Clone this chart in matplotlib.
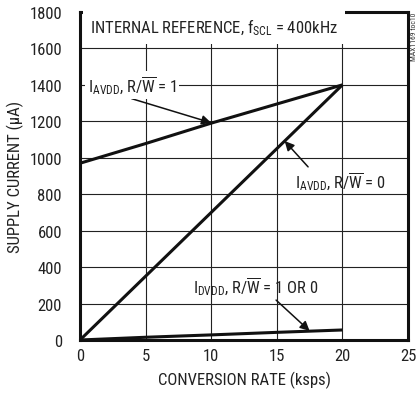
import matplotlib
matplotlib.use("Agg")
import matplotlib.pyplot as plt

# Data
rate = [0, 5, 10, 15, 20]
iavdd_rw1 = [970, 1078, 1190, 1295, 1400]
iavdd_rw0 = [0, 350, 700, 1050, 1400]
idvdd = [0, 15, 28, 42, 55]

xticks = [0, 5, 10, 15, 20, 25]
yticks = [0, 200, 400, 600, 800, 1000, 1200, 1400, 1600, 1800]

FONT = 'Roboto Condensed'
plt.rcParams['font.family'] = [FONT, 'DejaVu Sans']
plt.rcParams['mathtext.fontset'] = 'custom'
plt.rcParams['mathtext.rm'] = FONT
plt.rcParams['mathtext.it'] = FONT
plt.rcParams['mathtext.bf'] = FONT

FS = 12

fig = plt.figure(figsize=(4.19, 4.02), dpi=100)
ax = fig.add_axes([80/419, 1-341/402, 328/419, 328/402])

ax.set_xlim(0, 25)
ax.set_ylim(0, 1800)
ax.set_xticks(xticks)
ax.set_yticks(yticks)
ax.grid(True, color='#222222', linewidth=0.8)
ax.tick_params(length=0, labelsize=FS, colors='#222222')
ax.tick_params(axis='y', pad=13)
ax.tick_params(axis='x', pad=6)
for s in ax.spines.values():
    s.set_linewidth(2.2)
    s.set_color('#111111')

lw = 2.2
ax.plot(rate, iavdd_rw1, color='#111111', lw=lw, solid_capstyle='butt', zorder=3)
ax.plot(rate, iavdd_rw0, color='#111111', lw=lw, solid_capstyle='butt', zorder=3)
ax.plot(rate, idvdd, color='#111111', lw=lw, solid_capstyle='butt', zorder=3)

ax.set_xlabel('CONVERSION RATE (ksps)', fontsize=FS, labelpad=5, color='#222222')
ax.set_ylabel('SUPPLY CURRENT (μA)', fontsize=FS, labelpad=4, color='#222222')

bbox_w = dict(boxstyle='square,pad=0.15', facecolor='white', edgecolor='none')
arrow = dict(arrowstyle='-|>', color='#111111', lw=1.1, mutation_scale=14, shrinkA=0, shrinkB=0)

ax.text(0.75, 1718, 'INTERNAL REFERENCE, f$_{\\mathrm{SCL}}$ = 400kHz', fontsize=FS,
        va='center', ha='left', zorder=4, color='#222222',
        bbox=dict(boxstyle='square,pad=0.4', facecolor='white', edgecolor='none'))

ax.annotate('I$_{\\mathrm{AVDD}}$, R/$\\overline{\\mathrm{W}}$ = 1', xy=(10, 1192), xytext=(0.6, 1400),
            fontsize=FS, ha='left', va='center', bbox=bbox_w, zorder=4, color='#222222',
            arrowprops=dict(arrow, relpos=(0.40, 0.0)))

ax.annotate('I$_{\\mathrm{AVDD}}$, R/$\\overline{\\mathrm{W}}$ = 0', xy=(15.6, 1092), xytext=(16.4, 873),
            fontsize=FS, ha='left', va='center', zorder=4, color='#222222',
            arrowprops=dict(arrow, relpos=(0.17, 1.0)))

ax.annotate('I$_{\\mathrm{DVDD}}$, R/$\\overline{\\mathrm{W}}$ = 1 OR 0', xy=(17.5, 50), xytext=(8.6, 296),
            fontsize=FS, ha='left', va='center', zorder=4, color='#222222',
            arrowprops=dict(arrow, relpos=(0.64, 0.0)))

fig.text(414/419, 1-13/402, 'MAX1169 toc10', rotation=90, fontsize=5.5,
         ha='center', va='top', color='#333333')

fig.savefig('out.png', dpi=100)
